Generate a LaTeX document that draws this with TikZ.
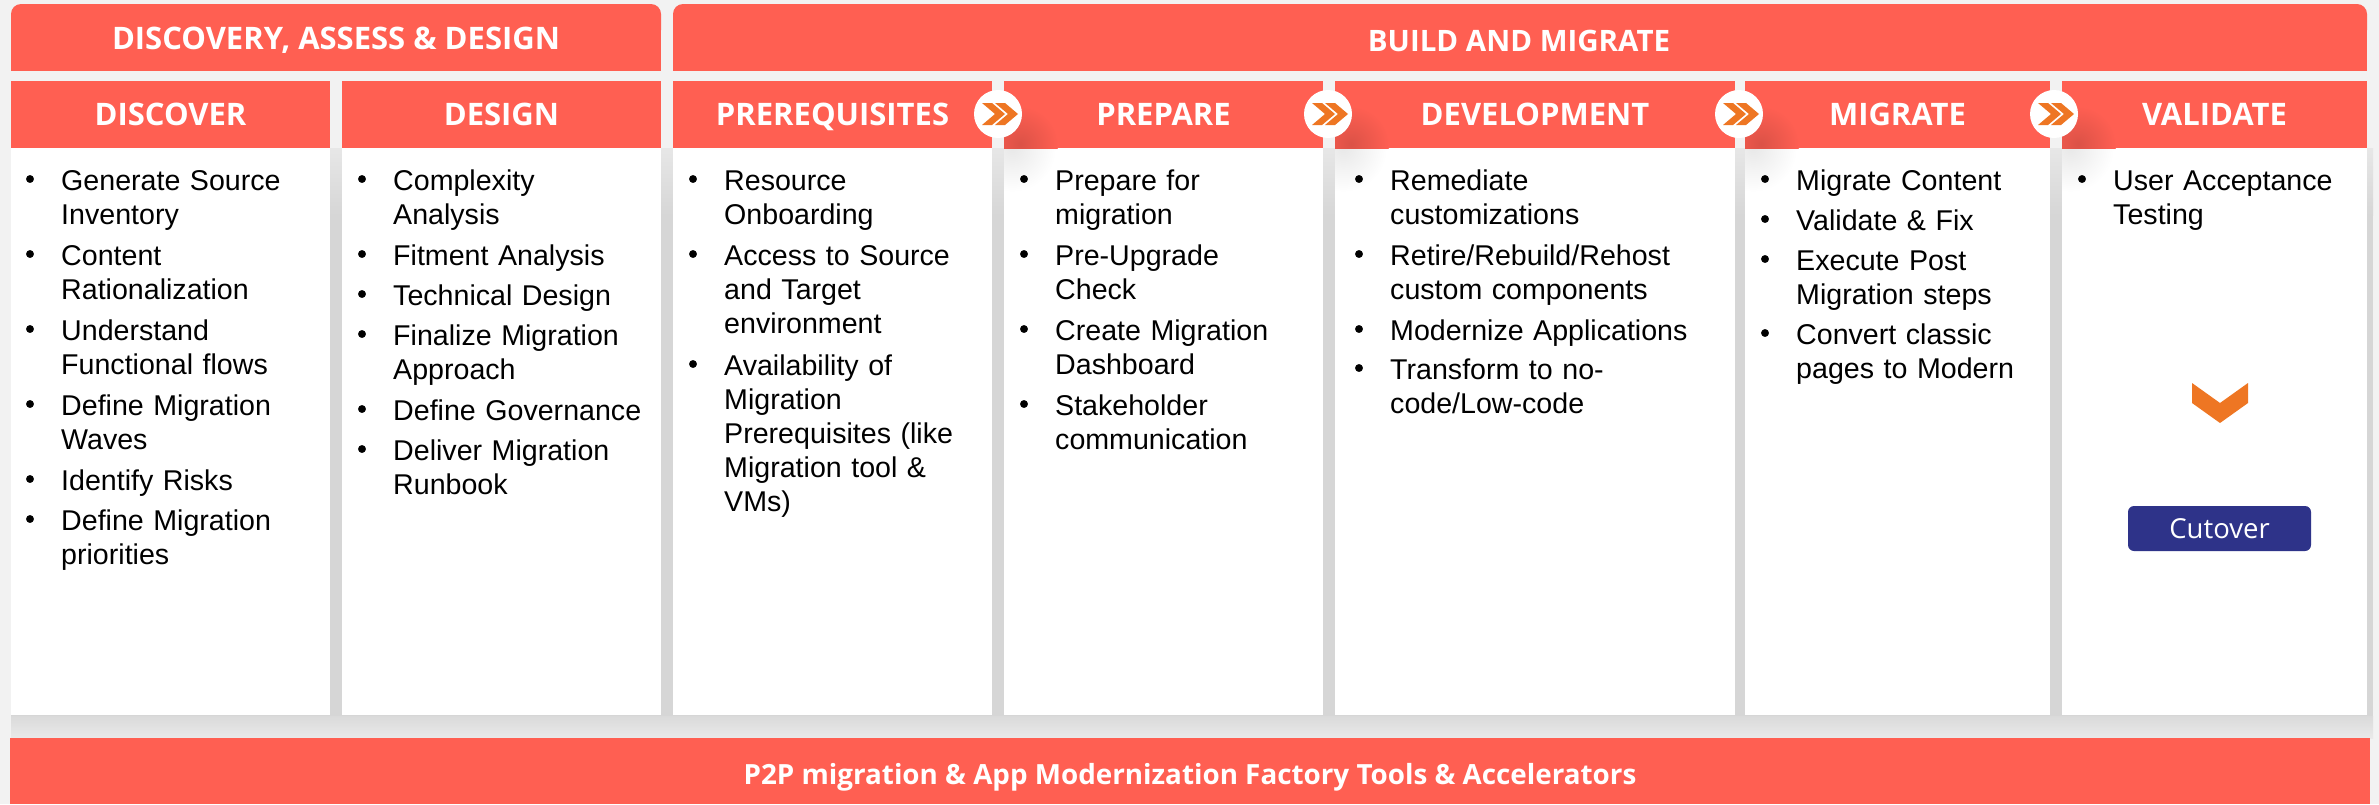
\documentclass[tikz,border=0pt]{standalone}
\usepackage{fontspec}
\setmainfont{Open Sans}
\newfontfamily\bodyfont{Liberation Sans}
\definecolor{coral}{HTML}{FF5F52}
\definecolor{paper}{HTML}{F2F2F2}
\definecolor{gutter}{HTML}{D6D6D6}
\definecolor{chevron}{HTML}{EE7623}
\definecolor{navy}{HTML}{2E3389}
\tikzset{
	band/.style={fill=coral,draw=none},
	title/.style={text=white,font=\fontsize{31}{36}\selectfont\bfseries,anchor=base},
	entry/.style={anchor=north west,xshift=31pt,yshift=13pt,text width=300pt,align=left,text=black,inner sep=0pt,
		execute at begin node=\strut,font=\bodyfont\fontsize{28.6}{34.2}\selectfont},
	hop/.style={fill=white,draw=none},
	tip/.style={fill=chevron,draw=none}
}
% one pair of chevrons inside a white circle, with its smudge
\newcommand{\hopmark}[4]{
	\coordinate (#1) at (#2,#3);
	\begin{scope}
		\clip (#4,148) rectangle (#4+60,200);
		\shade[inner color=black!9,outer color=white] (#4+8,148) circle (44);
	\end{scope}
	\begin{scope}
		\clip (#4,81) rectangle (#4+70,148);
		\shade[inner color=coral!86!black,outer color=coral] (#4+16,144) circle (38);
	\end{scope}
	\filldraw[hop] (#1) circle (24);
	\fill[tip] (#2-16,#3-11)--(#2-6,#3-11)--(#2+7,#3)--(#2-6,#3+11)--(#2-16,#3+11)--(#2-3,#3)--cycle;
	\fill[tip] (#2-3,#3-11)--(#2+7,#3-11)--(#2+20,#3)--(#2+7,#3+11)--(#2-3,#3+11)--(#2+10,#3)--cycle;
}
\begin{document}
\begin{tikzpicture}[x=1pt,y=-1pt]
	\useasboundingbox (0,0) rectangle (2379,804);
	\fill[paper] (0,0) rectangle (2379,804);
	\shade[top color=paper!60!gutter,bottom color=gutter] (11,148) rectangle (2373,215);
	\fill[gutter] (11,215) rectangle (2373,716);
	\shade[top color=gutter!85!paper,bottom color=paper!70!gutter] (11,716) rectangle (2373,738);

	% top bands
	\fill[band,rounded corners=10] (11,4) rectangle (661,40);
	\fill[band] (11,20) rectangle (661,71);
	\fill[band,rounded corners=10] (673,4) rectangle (2367,40);
	\fill[band] (673,20) rectangle (2367,71);
	\node[title] (assess) at (336,49) {DISCOVERY, ASSESS \& DESIGN};
	\node[title,font=\fontsize{29.5}{34}\selectfont\bfseries] (build) at (1519,51) {BUILD AND MIGRATE};

	% columns
	\foreach \name/\xa/\xb/\head in {discover/11/330/DISCOVER,design/342/661/DESIGN,prereq/673/992/PREREQUISITES,prepare/1004/1323/PREPARE,develop/1335/1735/DEVELOPMENT,migrate/1745/2050/MIGRATE,validate/2062/2367/VALIDATE}{
		\fill[white] (\xa,148) rectangle (\xb,715);
		\fill[band] (\xa,81) rectangle (\xb,148);
		\node[title] (\name) at ({(\xa+\xb)/2},125) {\head};
	}

	% arrows between the columns
	\hopmark{hopa}{998}{114}{1004}
	\hopmark{hopb}{1328}{114}{1335}
	\hopmark{hopc}{1739}{114}{1745}
	\hopmark{hopd}{2054}{114}{2062}

	% discover
	\filldraw[black] (30,179) circle (3.7) node[entry] (da) {Generate Source\\Inventory};
	\filldraw[black] (30,254) circle (3.7) node[entry] (db) {Content\\Rationalization};
	\filldraw[black] (30,329) circle (3.7) node[entry] (dc) {Understand\\Functional flows};
	\filldraw[black] (30,404) circle (3.7) node[entry] (dd) {Define Migration\\Waves};
	\filldraw[black] (30,479) circle (3.7) node[entry] (de) {Identify Risks};
	\filldraw[black] (30,519) circle (3.7) node[entry] (df) {Define Migration\\priorities};

	% design
	\filldraw[black] (362,179) circle (3.7) node[entry] (ga) {Complexity\\Analysis};
	\filldraw[black] (362,254) circle (3.7) node[entry] (gb) {Fitment Analysis};
	\filldraw[black] (362,294) circle (3.7) node[entry] (gc) {Technical Design};
	\filldraw[black] (362,334) circle (3.7) node[entry] (gd) {Finalize Migration\\Approach};
	\filldraw[black] (362,409) circle (3.7) node[entry] (ge) {Define Governance};
	\filldraw[black] (362,449) circle (3.7) node[entry] (gf) {Deliver Migration\\Runbook};

	% prerequisites
	\filldraw[black] (693,179) circle (3.7) node[entry] (pa) {Resource\\Onboarding};
	\filldraw[black] (693,254) circle (3.7) node[entry] (pb) {Access to Source\\and Target\\environment};
	\filldraw[black] (693,364) circle (3.7) node[entry] (pc) {Availability of\\Migration\\Prerequisites (like\\Migration tool \&\\VMs)};

	% prepare
	\filldraw[black] (1024,179) circle (3.7) node[entry] (ra) {Prepare for\\migration};
	\filldraw[black] (1024,254) circle (3.7) node[entry] (rb) {Pre-Upgrade\\Check};
	\filldraw[black] (1024,329) circle (3.7) node[entry] (rc) {Create Migration\\Dashboard};
	\filldraw[black] (1024,404) circle (3.7) node[entry] (rd) {Stakeholder\\communication};

	% development
	\filldraw[black] (1359,179) circle (3.7) node[entry] (va) {Remediate\\customizations};
	\filldraw[black] (1359,254) circle (3.7) node[entry] (vb) {Retire/Rebuild/Rehost\\custom components};
	\filldraw[black] (1359,329) circle (3.7) node[entry] (vc) {Modernize Applications};
	\filldraw[black] (1359,368) circle (3.7) node[entry] (vd) {Transform to no-\\code/Low-code};

	% migrate
	\filldraw[black] (1765,179) circle (3.7) node[entry] (ma) {Migrate Content};
	\filldraw[black] (1765,219) circle (3.7) node[entry] (mb) {Validate \& Fix};
	\filldraw[black] (1765,259) circle (3.7) node[entry] (mc) {Execute Post\\Migration steps};
	\filldraw[black] (1765,333) circle (3.7) node[entry] (md) {Convert classic\\pages to Modern};

	% validate
	\filldraw[black] (2082,179) circle (3.7) node[entry,text width=250pt] (ua) {User Acceptance\\Testing};
	\fill[tip] (2192,383)--(2220,403)--(2248,383)--(2248,403)--(2220,423)--(2192,403)--cycle;
	\node[fill=navy,rounded corners=6,text=white,minimum width=183,minimum height=45,inner sep=0pt,font=\fontsize{27.5}{30}\selectfont] (cutover) at (2219.5,528.5) {Cutover};

	% bottom band
	\fill[band] (10,738) rectangle (2370,804);
	\node[title,font=\fontsize{27.8}{32}\selectfont\bfseries] (tools) at (1190,784) {P2P migration \& App Modernization Factory Tools \& Accelerators};
\end{tikzpicture}
\end{document}
